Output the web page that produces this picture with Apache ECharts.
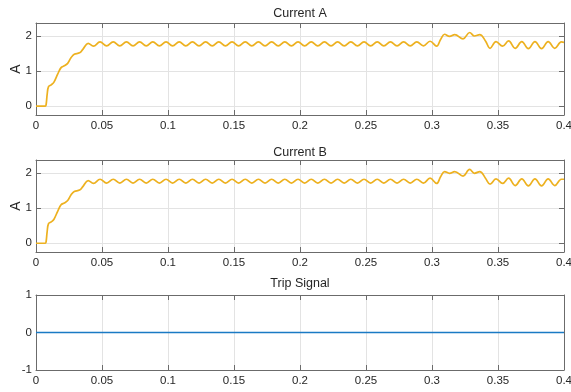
<!DOCTYPE html>
<html>
<head>
<meta charset="utf-8">
<script src="https://cdn.jsdelivr.net/npm/echarts@6/dist/echarts.min.js"></script>
<style>
  html, body { margin: 0; padding: 0; background: #ffffff; }
  #chart { width: 571px; height: 392px; }
</style>
</head>
<body>
<div id="chart"></div>
<script>
// Sample instants (s) shared by both phase currents
const time = [
  0, 0.007, 0.0076, 0.0085, 0.0095, 0.0115, 0.0135, 0.0165, 0.019, 0.0215,
  0.024, 0.0265, 0.029, 0.033, 0.0355, 0.0395,
  0.0435, 0.0485, 0.0535, 0.0585, 0.0635, 0.0685, 0.0735, 0.0785, 0.0835, 0.0885,
  0.0935, 0.0985, 0.1035, 0.1085, 0.1135, 0.1185, 0.1235, 0.1285, 0.1335, 0.1385,
  0.1435, 0.1485, 0.1535, 0.1585, 0.1635, 0.1685, 0.1735, 0.1785, 0.1835, 0.1885,
  0.1935, 0.1985, 0.2035, 0.2085, 0.2135, 0.2185, 0.2235, 0.2285, 0.2335, 0.2385,
  0.2435, 0.2485, 0.2535, 0.2585, 0.2635, 0.2685, 0.2735, 0.2785, 0.2835, 0.2885,
  0.2935, 0.2985, 0.3035,
  0.3065, 0.3095, 0.3133, 0.3172, 0.3235, 0.3285, 0.3322, 0.3362, 0.3405, 0.3440,
  0.3485, 0.3535, 0.3580, 0.3630, 0.3680, 0.3730, 0.3780, 0.3830, 0.3880, 0.3930,
  0.3980, 0.4
];

// Phase A current (A)
const currentA = [
  0, 0, 0.03, 0.35, 0.56, 0.61, 0.68, 0.92, 1.10, 1.15,
  1.22, 1.38, 1.48, 1.52, 1.62, 1.79,
  1.71, 1.83, 1.72, 1.83, 1.72, 1.83, 1.72, 1.83, 1.72, 1.83,
  1.72, 1.83, 1.72, 1.83, 1.72, 1.83, 1.72, 1.83, 1.72, 1.83,
  1.72, 1.83, 1.72, 1.83, 1.72, 1.83, 1.72, 1.83, 1.72, 1.83,
  1.72, 1.83, 1.72, 1.83, 1.72, 1.83, 1.72, 1.83, 1.72, 1.83,
  1.72, 1.83, 1.72, 1.83, 1.72, 1.83, 1.72, 1.83, 1.72, 1.83,
  1.72, 1.85, 1.71,
  1.90, 2.05, 1.99, 2.04, 1.92, 2.10, 2.00, 2.04, 1.86, 1.65,
  1.84, 1.71, 1.86, 1.65, 1.84, 1.64, 1.84, 1.64, 1.84, 1.65,
  1.83, 1.82
];

// Phase B current (A)
const currentB = [
  0, 0, 0.03, 0.35, 0.56, 0.61, 0.68, 0.92, 1.10, 1.15,
  1.22, 1.38, 1.48, 1.52, 1.62, 1.79,
  1.71, 1.83, 1.72, 1.83, 1.72, 1.83, 1.72, 1.83, 1.72, 1.83,
  1.72, 1.83, 1.72, 1.83, 1.72, 1.83, 1.72, 1.83, 1.72, 1.83,
  1.72, 1.83, 1.72, 1.83, 1.72, 1.83, 1.72, 1.83, 1.72, 1.83,
  1.72, 1.83, 1.72, 1.83, 1.72, 1.83, 1.72, 1.83, 1.72, 1.83,
  1.72, 1.83, 1.72, 1.83, 1.72, 1.83, 1.72, 1.83, 1.72, 1.83,
  1.72, 1.86, 1.71,
  1.90, 2.05, 2.00, 2.05, 1.92, 2.11, 2.00, 2.05, 1.86, 1.69,
  1.84, 1.71, 1.86, 1.65, 1.84, 1.64, 1.84, 1.64, 1.84, 1.65,
  1.83, 1.83
];

// Breaker trip command
const tripTime = [0, 0.4];
const tripSignal = [0, 0];

const titles = ['Current A', 'Current B', 'Trip Signal'];
const timeRange = [0, 0.4];
const timeStep = 0.05;
const currentTicks = [0, 1, 2];
const tripTicks = [-1, 0, 1];

const FONT = '"Liberation Sans", Arial, Helvetica, sans-serif';
const INK = '#262626';
const FRAME = '#6b6b6b';
const GRIDLINE = '#e3e3e3';

const panels = [
  { top: 23,  height: 92, yMin: -0.25, yMax: 2.37, ticks: currentTicks, name: 'A', titleTop: 7.5 },
  { top: 160, height: 92, yMin: -0.25, yMax: 2.38, ticks: currentTicks, name: 'A', titleTop: 146 },
  { top: 295, height: 75, yMin: -1,    yMax: 1,    ticks: tripTicks,    name: '',  titleTop: 277.5 }
];

const zip = (xs, ys) => xs.map((x, i) => [x, ys[i]]);

const grid = [], xAxis = [], yAxis = [], title = [];
const frameLine = { show: true, onZero: false, lineStyle: { color: FRAME, width: 1 } };
const tick = { show: true, inside: true, length: 5, lineStyle: { color: FRAME, width: 1 } };

panels.forEach((p, i) => {
  grid.push({
    left: 36, width: 528, top: p.top, height: p.height,
    containLabel: false, outerBoundsMode: 'none'
  });
  title.push({
    text: titles[i], left: 300, top: p.titleTop, textAlign: 'center', padding: 0,
    textStyle: { fontFamily: FONT, fontSize: 12.5, fontWeight: 'normal', color: INK }
  });
  // bottom and top time axes
  xAxis.push({
    type: 'value', gridIndex: i, position: 'bottom',
    min: timeRange[0], max: timeRange[1], interval: timeStep,
    axisLine: frameLine, axisTick: tick,
    axisLabel: { fontFamily: FONT, fontSize: 11.5, color: INK, margin: 5 },
    splitLine: { show: true, lineStyle: { color: GRIDLINE, width: 1 } }
  });
  xAxis.push({
    type: 'value', gridIndex: i, position: 'top',
    min: timeRange[0], max: timeRange[1], interval: timeStep,
    axisLine: frameLine, axisTick: tick,
    axisLabel: { show: false }, splitLine: { show: false }
  });
  // left and right value axes
  yAxis.push({
    type: 'value', gridIndex: i, position: 'left',
    min: p.yMin, max: p.yMax,
    name: p.name, nameLocation: 'middle', nameGap: 12.5, nameMoveOverlap: false,
    nameTextStyle: { fontFamily: FONT, fontSize: 14, color: INK },
    axisLine: frameLine,
    axisTick: Object.assign({}, tick, { customValues: p.ticks }),
    axisLabel: { fontFamily: FONT, fontSize: 11.5, color: INK, margin: 4, customValues: p.ticks },
    splitLine: { show: true, lineStyle: { color: GRIDLINE, width: 1 } }
  });
  yAxis.push({
    type: 'value', gridIndex: i, position: 'right',
    min: p.yMin, max: p.yMax,
    axisLine: frameLine,
    axisTick: Object.assign({}, tick, { customValues: p.ticks }),
    axisLabel: { show: false, customValues: p.ticks },
    splitLine: { show: false }
  });
});

const currentLine = { color: '#EDB120', width: 1.7 };

const option = {
  animation: false,
  backgroundColor: '#ffffff',
  title: title,
  grid: grid,
  xAxis: xAxis,
  yAxis: yAxis,
  series: [
    { type: 'line', name: 'Current A', xAxisIndex: 0, yAxisIndex: 0,
      data: zip(time, currentA), showSymbol: false, smooth: 0.4,
      lineStyle: currentLine, z: 3 },
    { type: 'line', name: 'Current B', xAxisIndex: 2, yAxisIndex: 2,
      data: zip(time, currentB), showSymbol: false, smooth: 0.4,
      lineStyle: currentLine, z: 3 },
    { type: 'line', name: 'Trip Signal', xAxisIndex: 4, yAxisIndex: 4,
      data: zip(tripTime, tripSignal), showSymbol: false,
      lineStyle: { color: '#1a7ac4', width: 1.4 }, z: 3 }
  ]
};

echarts.init(document.getElementById('chart'), null, { renderer: 'canvas' }).setOption(option);
</script>
</body>
</html>
